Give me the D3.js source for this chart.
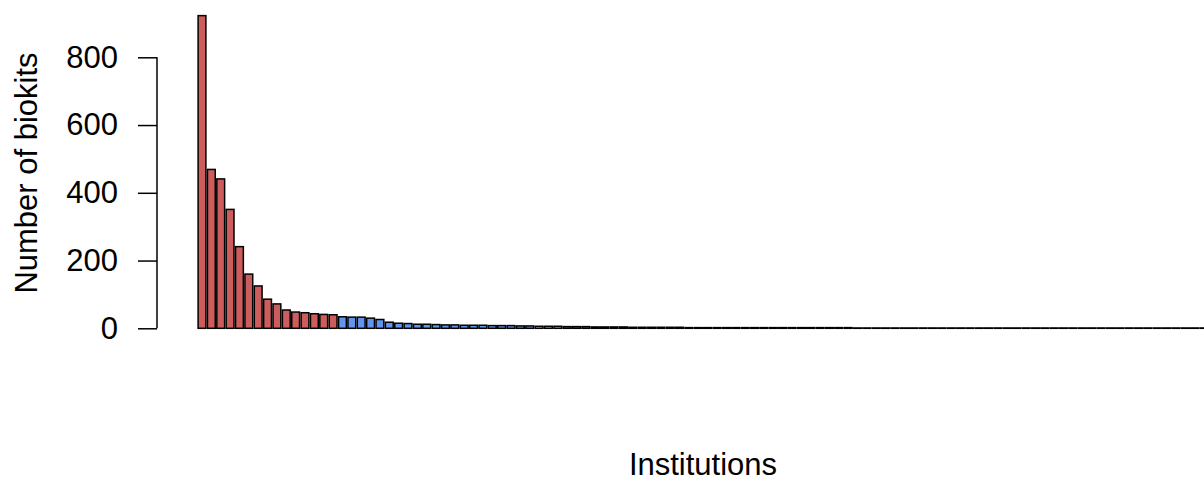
<!DOCTYPE html>
<html>
<head>
<meta charset="utf-8">
<script src="https://cdn.jsdelivr.net/npm/d3@7"></script>
<style>
  body { margin: 0; background: #fff; }
  svg { display: block; font-family: "Liberation Sans", Arial, sans-serif; }
</style>
</head>
<body>
<svg id="chart" width="1204" height="478"></svg>
<script>
// biokits per institution, sorted descending
const topInstitutions = [923, 469, 441, 351, 241, 160, 125, 86, 72, 54, 48, 46, 43, 41, 40];
const midInstitutions = [34, 33, 33, 30, 26, 18, 15, 14, 12, 12, 11, 10, 10, 9, 9, 9, 8, 8, 8, 7, 7];
const restInstitutions = [6, 6, 6, 5, 5, 5, 4, 4, 4, 4, 3, 3, 3, 3, 3, 3,
  2, 2, 2, 2, 2, 2, 2, 2, 2, 2, 2, 2, 2, 2, 2, 2, 2, 2,
  1, 1, 1, 1, 1, 1, 1, 1, 1, 1, 1, 1, 1, 1, 1, 1, 1, 1, 1, 1,
  1, 1, 1, 1, 1, 1, 1, 1, 1, 1, 1, 1, 1, 1, 1, 1, 1, 1];
const yTicks = [0, 200, 400, 600, 800];

const groupColor = {top: "#CD5C5C", mid: "#6495ED", rest: "#bebebe"};

const bars = [
  ...topInstitutions.map(v => ({value: v, group: "top"})),
  ...midInstitutions.map(v => ({value: v, group: "mid"})),
  ...restInstitutions.map(v => ({value: v, group: "rest"}))
];
bars.forEach((d, i) => { d.x0 = 0.2 + 1.2 * i; d.x1 = d.x0 + 1; });

const svg = d3.select("#chart");

// R barplot style x range: bars plus 4% on each side
const xlo = bars[0].x0, xhi = bars[bars.length - 1].x1;
const pad = (xhi - xlo) * 0.04;
const x = d3.scaleLinear().domain([xlo - pad, xhi + pad]).range([157.7, 1248.3]);
const y = d3.scaleLinear().domain([0, 800]).range([328.3, 57.3]);

svg.append("g")
  .selectAll("rect")
  .data(bars)
  .join("rect")
  .attr("x", d => x(d.x0))
  .attr("width", d => x(d.x1) - x(d.x0))
  .attr("y", d => y(d.value))
  .attr("height", d => y(0) - y(d.value))
  .attr("fill", d => groupColor[d.group])
  .attr("stroke", "#000")
  .attr("stroke-width", 1.5);

const yAxis = svg.append("g")
  .attr("transform", "translate(157,0)")
  .call(d3.axisLeft(y).tickValues(yTicks).tickSize(19).tickPadding(20).tickSizeOuter(0));
yAxis.select(".domain").remove();
yAxis.append("line")
  .attr("y1", y(0)).attr("y2", y(800))
  .attr("stroke", "#000").attr("stroke-width", 1.5);
yAxis.selectAll(".tick line").attr("stroke-width", 1.5);
yAxis.selectAll(".tick text")
  .attr("font-size", 31)
  .attr("font-family", "Liberation Sans, Arial, sans-serif")
  .attr("fill", "#000");

svg.append("text")
  .attr("transform", "translate(37,173) rotate(-90)")
  .attr("text-anchor", "middle")
  .attr("font-size", 31)
  .text("Number of biokits");

svg.append("text")
  .attr("x", 703)
  .attr("y", 475)
  .attr("text-anchor", "middle")
  .attr("font-size", 31)
  .text("Institutions");
</script>
</body>
</html>
